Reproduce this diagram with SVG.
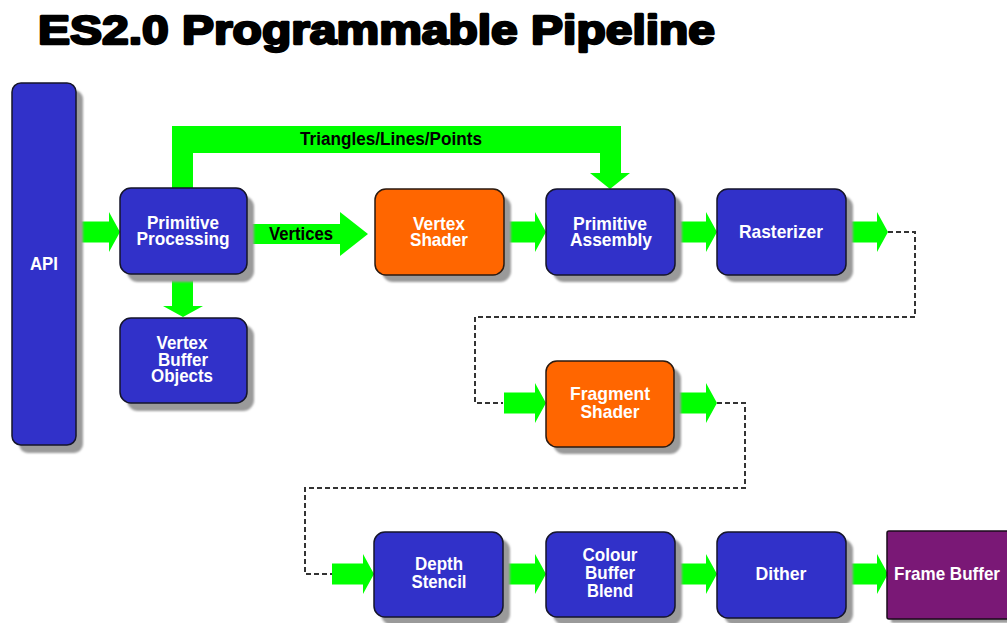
<svg xmlns="http://www.w3.org/2000/svg" xmlns:xlink="http://www.w3.org/1999/xlink" width="1007" height="623" viewBox="0 0 1007 623">
<style>
.sh{fill:#9a9a9a;filter:url(#blur)}
.blue{fill:#3131c9;stroke:#15152a;stroke-width:1.5}
.orange{fill:#ff6600;stroke:#2a1a10;stroke-width:1.5}
.purple{fill:#7a1876;stroke:#1a0a1a;stroke-width:1.5}
.lbl{font-family:"Liberation Sans",Arial,sans-serif;font-weight:bold;font-size:19px;fill:#ffffff;text-anchor:middle}
.blk{font-family:"Liberation Sans",Arial,sans-serif;font-weight:bold;font-size:18px;fill:#000000;text-anchor:middle}
.green{fill:#00ff00}
.dash{fill:none;stroke:#333333;stroke-width:2;stroke-dasharray:5 3}
.title{font-family:"Liberation Sans",Arial,sans-serif;font-weight:bold;font-size:40px;fill:#000;stroke:#000;stroke-width:2.4;stroke-linejoin:round}
</style>
<defs>
<filter id="blur" x="-10%" y="-10%" width="120%" height="120%"><feGaussianBlur stdDeviation="1.2"/></filter>
<path id="arr" d="M0,-10.5 H31 V-20 L42,0 L31,20 V10.5 H0 Z"/>
</defs>
<rect width="1007" height="623" fill="#ffffff"/>
<text class="title" x="38" y="44" textLength="677" lengthAdjust="spacingAndGlyphs">ES2.0 Programmable Pipeline</text>

<g id="connectors">
  <use href="#arr" class="green" transform="translate(78,232)"/>
  <path class="green" d="M247,224 H340 V212 L368,234 L340,256 V244 H247 Z"/>
  <text class="blk" x="301" y="240" font-size="19" textLength="64" lengthAdjust="spacingAndGlyphs">Vertices</text>
  <path class="green" d="M172,274 H193 V306 H203 L183,317 L163,306 H172 Z"/>
  <path class="green" d="M172,189 V126 H621 V173 H630 L610,189 L590,173 H600 V153 H193 V189 Z"/>
  <text class="blk" x="391" y="145" textLength="182" lengthAdjust="spacingAndGlyphs">Triangles/Lines/Points</text>
  <use href="#arr" class="green" transform="translate(504,232)"/>
  <use href="#arr" class="green" transform="translate(675,232)"/>
  <use href="#arr" class="green" transform="translate(846,232)"/>
  <path class="dash" d="M888,232 H915 V317 H475 V403 H503"/>
  <use href="#arr" class="green" transform="translate(504,403)"/>
  <use href="#arr" class="green" transform="translate(675,403)"/>
  <path class="dash" d="M717,403 H745 V488 H305 V574 H332"/>
  <use href="#arr" class="green" transform="translate(332,574)"/>
  <use href="#arr" class="green" transform="translate(504,574)"/>
  <use href="#arr" class="green" transform="translate(675,574)"/>
  <use href="#arr" class="green" transform="translate(846,574)"/>
</g>

<g id="api">
  <rect class="sh" x="19" y="90" width="64" height="363" rx="9"/>
  <rect class="blue" x="12" y="83" width="64" height="362" rx="9"/>
  <text class="lbl" x="44" y="270" textLength="28" lengthAdjust="spacingAndGlyphs">API</text>
</g>
<g id="primitive-processing">
  <rect class="sh" x="127" y="196" width="127" height="86" rx="11"/>
  <rect class="blue" x="120" y="188" width="127" height="86" rx="11"/>
  <text class="lbl" x="183" y="229" textLength="72" lengthAdjust="spacingAndGlyphs">Primitive</text>
  <text class="lbl" x="183" y="245" textLength="93" lengthAdjust="spacingAndGlyphs">Processing</text>
</g>
<g id="vertex-buffer-objects">
  <rect class="sh" x="127" y="325" width="127" height="86" rx="11"/>
  <rect class="blue" x="120" y="318" width="127" height="85" rx="11"/>
  <text class="lbl" x="182" y="349" textLength="51" lengthAdjust="spacingAndGlyphs">Vertex</text>
  <text class="lbl" x="183" y="366" textLength="50" lengthAdjust="spacingAndGlyphs">Buffer</text>
  <text class="lbl" x="182" y="382" textLength="62" lengthAdjust="spacingAndGlyphs">Objects</text>
</g>
<g id="vertex-shader">
  <rect class="sh" x="382" y="196" width="129" height="86" rx="11"/>
  <rect class="orange" x="375" y="189" width="129" height="86" rx="11"/>
  <text class="lbl" x="439" y="230" textLength="52" lengthAdjust="spacingAndGlyphs">Vertex</text>
  <text class="lbl" x="439" y="246" textLength="58" lengthAdjust="spacingAndGlyphs">Shader</text>
</g>
<g id="primitive-assembly">
  <rect class="sh" x="553" y="196" width="129" height="86" rx="11"/>
  <rect class="blue" x="546" y="189" width="129" height="86" rx="11"/>
  <text class="lbl" x="610" y="230" textLength="74" lengthAdjust="spacingAndGlyphs">Primitive</text>
  <text class="lbl" x="611" y="246" textLength="82" lengthAdjust="spacingAndGlyphs">Assembly</text>
</g>
<g id="rasterizer">
  <rect class="sh" x="724" y="196" width="129" height="86" rx="11"/>
  <rect class="blue" x="717" y="189" width="129" height="86" rx="11"/>
  <text class="lbl" x="781" y="238" textLength="84" lengthAdjust="spacingAndGlyphs">Rasterizer</text>
</g>
<g id="fragment-shader">
  <rect class="sh" x="553" y="368" width="128" height="86" rx="11"/>
  <rect class="orange" x="546" y="361" width="128" height="86" rx="11"/>
  <text class="lbl" x="610" y="400" textLength="80" lengthAdjust="spacingAndGlyphs">Fragment</text>
  <text class="lbl" x="610" y="418" textLength="59" lengthAdjust="spacingAndGlyphs">Shader</text>
</g>
<g id="depth-stencil">
  <rect class="sh" x="381" y="539" width="129" height="86" rx="11"/>
  <rect class="blue" x="374" y="532" width="129" height="85" rx="11"/>
  <text class="lbl" x="439" y="570" textLength="48" lengthAdjust="spacingAndGlyphs">Depth</text>
  <text class="lbl" x="439" y="588" textLength="55" lengthAdjust="spacingAndGlyphs">Stencil</text>
</g>
<g id="colour-buffer-blend">
  <rect class="sh" x="553" y="539" width="129" height="86" rx="11"/>
  <rect class="blue" x="546" y="532" width="129" height="85" rx="11"/>
  <text class="lbl" x="610" y="561" textLength="55" lengthAdjust="spacingAndGlyphs">Colour</text>
  <text class="lbl" x="610" y="579" textLength="50" lengthAdjust="spacingAndGlyphs">Buffer</text>
  <text class="lbl" x="610" y="597" textLength="46" lengthAdjust="spacingAndGlyphs">Blend</text>
</g>
<g id="dither">
  <rect class="sh" x="724" y="539" width="129" height="86" rx="11"/>
  <rect class="blue" x="717" y="532" width="129" height="86" rx="11"/>
  <text class="lbl" x="781" y="580" textLength="51" lengthAdjust="spacingAndGlyphs">Dither</text>
</g>
<g id="frame-buffer">
  <rect class="sh" x="891" y="535" width="130" height="88" rx="2"/>
  <rect class="purple" x="887" y="531" width="130" height="88" rx="2"/>
  <text class="lbl" x="947" y="580" textLength="106" lengthAdjust="spacingAndGlyphs">Frame Buffer</text>
</g>
</svg>
